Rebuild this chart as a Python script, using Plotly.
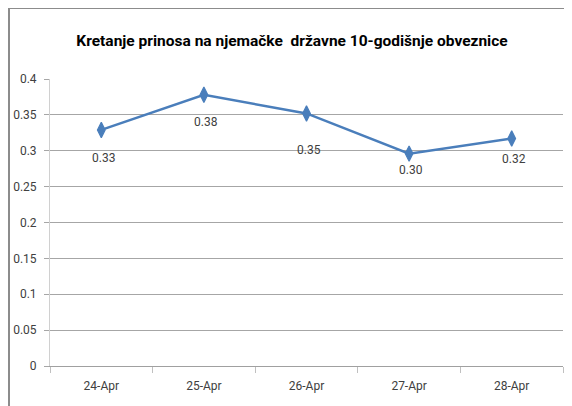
import plotly.graph_objects as go

categories = ["24-Apr", "25-Apr", "26-Apr", "27-Apr", "28-Apr"]
values = [0.329, 0.378, 0.352, 0.296, 0.317]
label_texts = ["0.33", "0.38", "0.35", "0.30", "0.32"]
label_offsets = [28, 27, 37, 16, 20]

FONT = "Roboto, Liberation Sans, sans-serif"
OFF = 8  # page body margin compensation

# target page-pixel geometry of the plot area
PL, PR, PT, PB = 50, 563, 79, 366
W, H = 572, 406

fig = go.Figure()
fig.add_trace(go.Scatter(
    x=categories, y=values, mode="lines+markers",
    line=dict(color="#4a7ebb", width=2.5),
    marker=dict(symbol="diamond-tall", size=11, color="#4a7ebb",
                line=dict(color="#4a7ebb", width=1.2)),
    showlegend=False, hoverinfo="x+y",
))

for c, v, t, off in zip(categories, values, label_texts, label_offsets):
    fig.add_annotation(x=c, y=v, text=t, showarrow=False, yshift=-off, xshift=2,
                       font=dict(family=FONT, size=12, color="#404040"))

pw = PR - PL
ph = PB - PT
# outer frame (page x=9, y=8)
fig.add_shape(type="rect", xref="paper", yref="paper",
              x0=(9 - PL) / pw, x1=1.2, y0=-0.3, y1=(PB - 8) / ph,
              line=dict(color="#8c8c8c", width=2), fillcolor="rgba(0,0,0,0)", layer="below")

fig.update_layout(
    width=W, height=H,
    margin=dict(l=PL - OFF, r=W - (PR - OFF), t=PT - OFF, b=H - (PB - OFF), autoexpand=False),
    paper_bgcolor="white", plot_bgcolor="white",
    title=dict(text="Kretanje prinosa na njemačke  državne 10-godišnje obveznice",
               x=(292 - OFF) / W, xanchor="center", y=1 - (41 - OFF) / H, yanchor="middle",
               font=dict(family=FONT, size=15.5, color="black", weight="bold")),
    font=dict(family=FONT, size=12, color="#404040"),
)
fig.update_xaxes(
    type="category", tickson="boundaries", ticks="outside", ticklen=6,
    tickcolor="#c0c0c0", showline=True, linecolor="#a0a0a0", linewidth=1,
    showgrid=False, range=[-0.5, 4.5], ticklabelstandoff=9,
    tickfont=dict(family=FONT, size=12, color="#404040"),
)
fig.update_yaxes(
    range=[0, 0.4], dtick=0.05, tick0=0, showgrid=True, gridcolor="#a6a6a6", gridwidth=1,
    ticks="outside", ticklen=5, tickcolor="#a6a6a6", ticklabelstandoff=5,
    showline=True, linecolor="#d0d0d0", linewidth=1, zeroline=False,
    tickfont=dict(family=FONT, size=12, color="#404040"),
)

fig.write_html("out.html")
